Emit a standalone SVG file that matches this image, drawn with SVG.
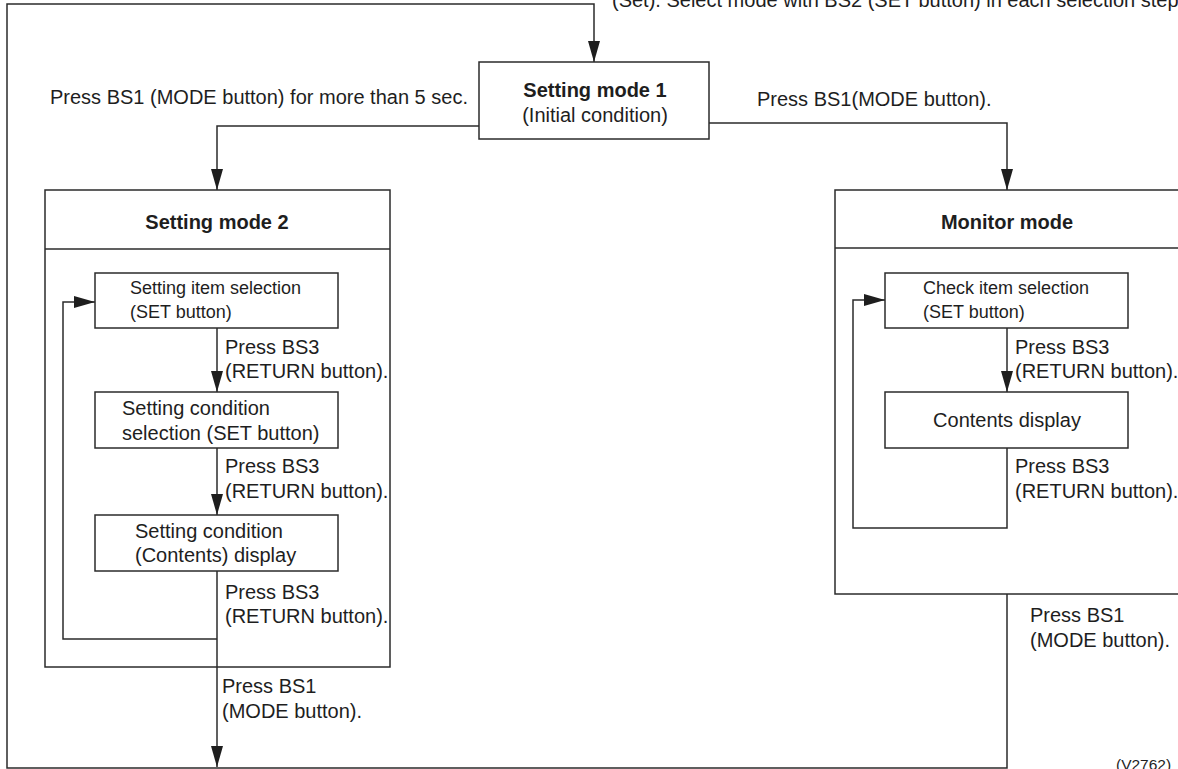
<svg xmlns="http://www.w3.org/2000/svg" width="1178" height="769" viewBox="0 0 1178 769">
<style>
.box{fill:#fff;stroke:#2b2b2b;stroke-width:1.5}
.ln{fill:none;stroke:#2b2b2b;stroke-width:1.5}
.arr{marker-end:url(#ah)}
.t{font-family:"Liberation Sans",Arial,sans-serif;font-size:20px;fill:#1e1e1e}
.s{font-size:18px}
.b{font-weight:bold}
.m{text-anchor:middle}
</style>
<defs>
<marker id="ah" markerUnits="userSpaceOnUse" markerWidth="21" markerHeight="12" refX="21" refY="6" orient="auto">
<path d="M0,0 L21,6 L0,12 z" fill="#1e1e1e"/>
</marker>
</defs>
<rect width="1178" height="769" fill="#fff"/>

<g id="connectors">
<polyline class="ln arr" points="1007,594 1007,768 7,768 7,4 594,4 594,62"/>
<polyline class="ln arr" points="479,126 217,126 217,190"/>
<polyline class="ln arr" points="709,123 1007,123 1007,190"/>
<line class="ln arr" x1="217" y1="328" x2="217" y2="392"/>
<line class="ln arr" x1="217" y1="448" x2="217" y2="515"/>
<line class="ln arr" x1="217" y1="571" x2="217" y2="767"/>
<polyline class="ln arr" points="217,639 63,639 63,302 95,302"/>
<line class="ln arr" x1="1007" y1="328" x2="1007" y2="392"/>
<polyline class="ln arr" points="1007,448 1007,528 853,528 853,300 885,300"/>
</g>

<g id="labels">
<text class="t" x="612" y="7">(Set). Select mode with BS2 (SET button) in each selection step.</text>
<text class="t" x="50" y="104">Press BS1 (MODE button) for more than 5 sec.</text>
<text class="t" x="757" y="106">Press BS1(MODE button).</text>
<text class="t" x="225" y="354">Press BS3</text>
<text class="t" x="225" y="378">(RETURN button).</text>
<text class="t" x="225" y="473">Press BS3</text>
<text class="t" x="225" y="498">(RETURN button).</text>
<text class="t" x="225" y="599">Press BS3</text>
<text class="t" x="225" y="623">(RETURN button).</text>
<text class="t" x="222" y="693">Press BS1</text>
<text class="t" x="222" y="718">(MODE button).</text>
<text class="t" x="1015" y="354">Press BS3</text>
<text class="t" x="1015" y="378">(RETURN button).</text>
<text class="t" x="1015" y="473">Press BS3</text>
<text class="t" x="1015" y="498">(RETURN button).</text>
<text class="t" x="1030" y="622">Press BS1</text>
<text class="t" x="1030" y="647">(MODE button).</text>
<text class="t" x="1116" y="770" style="font-size:15.5px">(V2762)</text>
</g>

<g id="setting-mode-1">
<rect class="box" x="479" y="62" width="230" height="77"/>
<text class="t b m" x="595" y="97">Setting mode 1</text>
<text class="t m" x="595" y="122">(Initial condition)</text>
</g>

<g id="setting-mode-2">
<rect class="ln" x="45" y="190" width="345" height="477"/>
<line class="ln" x1="45" y1="249" x2="390" y2="249"/>
<text class="t b m" x="217" y="229">Setting mode 2</text>
</g>
<g id="setting-item-selection">
<rect class="box" x="95" y="273" width="243" height="55"/>
<text class="t s" x="130" y="294">Setting item selection</text>
<text class="t s" x="130" y="318">(SET button)</text>
</g>
<g id="setting-condition-selection">
<rect class="box" x="95" y="392" width="243" height="56"/>
<text class="t" x="122" y="415">Setting condition</text>
<text class="t" x="122" y="440">selection (SET button)</text>
</g>
<g id="setting-condition-display">
<rect class="box" x="95" y="515" width="243" height="56"/>
<text class="t" x="135" y="538">Setting condition</text>
<text class="t" x="135" y="562">(Contents) display</text>
</g>

<g id="monitor-mode">
<rect class="ln" x="835" y="190" width="345" height="404"/>
<line class="ln" x1="835" y1="248" x2="1180" y2="248"/>
<text class="t b m" x="1007" y="229">Monitor mode</text>
</g>
<g id="check-item-selection">
<rect class="box" x="885" y="273" width="243" height="55"/>
<text class="t s" x="923" y="294">Check item selection</text>
<text class="t s" x="923" y="318">(SET button)</text>
</g>
<g id="contents-display">
<rect class="box" x="885" y="392" width="243" height="56"/>
<text class="t m" x="1007" y="427">Contents display</text>
</g>
</svg>
